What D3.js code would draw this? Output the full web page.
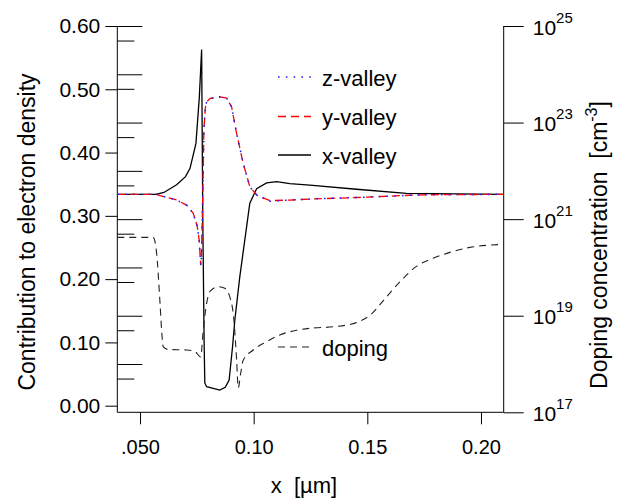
<!DOCTYPE html>
<html>
<head>
<meta charset="utf-8">
<script src="https://cdn.jsdelivr.net/npm/d3@7"></script>
<style>
  body { margin: 0; background: #fff; }
  svg text { font-family: "Liberation Sans", Arial, sans-serif; fill: #000; }
</style>
</head>
<body>
<div id="chart"></div>
<script>
// x-valley (solid black)
const xValleyX = [0.040, 0.057, 0.0605, 0.0661, 0.070, 0.072, 0.0746, 0.0761, 0.0771, 0.0776, 0.0782, 0.0785, 0.0793, 0.0822, 0.0851, 0.0875, 0.0892, 0.0898, 0.0907, 0.0917, 0.0939, 0.0969, 0.0983, 0.1013, 0.1057, 0.1101, 0.1159, 0.1247, 0.1452, 0.1672, 0.210];
const xValleyY = [0.334, 0.334, 0.337, 0.349, 0.362, 0.375, 0.4145, 0.488, 0.563, 0.300, 0.100, 0.036, 0.030, 0.0275, 0.0248, 0.029, 0.0406, 0.0616, 0.093, 0.135, 0.204, 0.283, 0.320, 0.343, 0.352, 0.354, 0.351, 0.3487, 0.342, 0.3355, 0.334];

// y- and z-valley (they lie on top of each other)
const yzValleyX = [0.040, 0.0573, 0.0588, 0.0661, 0.0705, 0.0734, 0.0752, 0.0760, 0.0767, 0.0770, 0.0776, 0.0781, 0.0787, 0.0793, 0.0808, 0.0851, 0.0881, 0.0903, 0.0925, 0.0954, 0.0983, 0.1013, 0.1071, 0.1159, 0.1247, 0.1452, 0.1745, 0.210];
const yValleyY = [0.334, 0.334, 0.332, 0.325, 0.317, 0.304, 0.283, 0.262, 0.222, 0.235, 0.330, 0.4355, 0.470, 0.480, 0.4856, 0.488, 0.486, 0.472, 0.430, 0.383, 0.346, 0.333, 0.324, 0.325, 0.3265, 0.329, 0.3333, 0.334];
const zValleyY = [0.334, 0.334, 0.332, 0.325, 0.317, 0.304, 0.283, 0.262, 0.222, 0.235, 0.330, 0.4355, 0.470, 0.480, 0.4856, 0.488, 0.486, 0.472, 0.430, 0.383, 0.346, 0.333, 0.323, 0.325, 0.3265, 0.329, 0.3333, 0.334];

// doping (right axis, cm^-3)
const dopingX = [0.040, 0.0558, 0.0573, 0.0588, 0.0595, 0.0602, 0.0624, 0.0705, 0.0742, 0.0767, 0.0778, 0.0793, 0.0808, 0.0844, 0.0873, 0.0895, 0.0913, 0.0925, 0.0932, 0.0943, 0.0954, 0.0998, 0.1057, 0.1115, 0.1189, 0.1247, 0.1350, 0.1452, 0.1511, 0.1584, 0.1643, 0.1716, 0.1789, 0.1863, 0.1951, 0.210];
const dopingY = [4.2e20, 4.2e20, 1.95e20, 1.8e19, 5.0e18, 2.3e18, 2.0e18, 1.95e18, 1.8e18, 1.4e18, 5.0e18, 1.8e19, 3.2e19, 4.0e19, 3.7e19, 2.45e19, 8.1e18, 1.2e18, 3.2e17, 6.5e17, 1.2e18, 1.95e18, 2.9e18, 4.0e18, 5.0e18, 5.5e18, 5.9e18, 7.2e18, 1.02e19, 2.45e19, 5.0e19, 1.05e20, 1.55e20, 2.05e20, 2.6e20, 3.0e20];

const xTicks = [0.05, 0.10, 0.15, 0.20];
const xTickLabels = [".050", "0.10", "0.15", "0.20"];
const yTicks = [0, 0.1, 0.2, 0.3, 0.4, 0.5, 0.6];
const rightTicks = [1e17, 1e19, 1e21, 1e23, 1e25];
const rightExps = ["17", "19", "21", "23", "25"];
const decadeTicks = [1e18, 1e19, 1e20, 1e21, 1e22, 1e23, 1e24, 1e25];
const halfDecadeTicks = [5e17, 5e18, 5e19, 5e20, 5e21, 5e22, 5e23, 5e24];
const legendLabels = ["z-valley", "y-valley", "x-valley", "doping"];

const W = 635, H = 499;
const plotL = 117.3, plotR = 503.7, plotT = 26, plotB = 412.3;

const svg = d3.select("#chart").append("svg")
  .attr("width", W).attr("height", H);

const x = d3.scaleLinear().domain([0.04, 0.21]).range([plotL, plotR]);
const y = d3.scaleLinear().domain([0, 0.6]).range([405.7, plotT]);
const yDop = d3.scaleLog().domain([1e17, 1e25]).range([plotB, plotT]);

// frame lines
svg.append("path")
  .attr("d", `M${plotL},${plotT}V${plotB}H${plotR}V${plotT}`)
  .attr("fill", "none").attr("stroke", "#000").attr("stroke-width", 1);

// left axis
const yAxis = svg.append("g")
  .attr("transform", `translate(${plotL},0)`)
  .call(d3.axisLeft(y).tickValues(yTicks).tickSize(12).tickPadding(5)
    .tickFormat(d3.format(".2f")));
yAxis.select(".domain").remove();
yAxis.selectAll("text").attr("font-size", 21);

// inner log ticks on the left side
const inLong = svg.append("g")
  .attr("transform", `translate(${plotL},0)`)
  .call(d3.axisRight(yDop).tickValues(decadeTicks).tickSize(25).tickFormat(""));
inLong.select(".domain").remove();
const inShort = svg.append("g")
  .attr("transform", `translate(${plotL},0)`)
  .call(d3.axisRight(yDop).tickValues(halfDecadeTicks).tickSize(17).tickFormat(""));
inShort.select(".domain").remove();

// bottom axis
const xAxis = svg.append("g")
  .attr("transform", `translate(0,${plotB})`)
  .call(d3.axisBottom(x).tickValues(xTicks).tickSize(12).tickPadding(16)
    .tickFormat((d, i) => xTickLabels[i]));
xAxis.select(".domain").remove();
xAxis.selectAll("text").attr("font-size", 20);

// right axis
const rAxis = svg.append("g")
  .attr("transform", `translate(${plotR},0)`)
  .call(d3.axisRight(yDop).tickValues(rightTicks).tickSize(20).tickPadding(9)
    .tickFormat(""));
rAxis.select(".domain").remove();
rAxis.selectAll(".tick text").each(function(d, i) {
  const t = d3.select(this).attr("dy", null);
  t.append("tspan").attr("dy", 8).attr("font-size", 21).text("10");
  t.append("tspan").attr("dy", -12).attr("font-size", 15).text(rightExps[i]);
});

// curves
const line = d3.line().x(d => x(d[0])).y(d => d[1]);

svg.append("path")
  .datum(xValleyX.map((v, i) => [v, y(xValleyY[i])]))
  .attr("fill", "none").attr("stroke", "#000").attr("stroke-width", 1.3)
  .attr("d", line);

svg.append("path")
  .datum(dopingX.map((v, i) => [v, yDop(dopingY[i])]))
  .attr("fill", "none").attr("stroke", "#222").attr("stroke-width", 1.1)
  .attr("stroke-dasharray", "7,5")
  .attr("d", line.curve(d3.curveMonotoneX));

svg.append("path")
  .datum(yzValleyX.map((v, i) => [v, y(yValleyY[i])]))
  .attr("fill", "none").attr("stroke", "#ff0000").attr("stroke-width", 1.3)
  .attr("stroke-dasharray", "8,5")
  .attr("d", line.curve(d3.curveLinear));

svg.append("path")
  .datum(yzValleyX.map((v, i) => [v, y(zValleyY[i])]))
  .attr("fill", "none").attr("stroke", "#2222ff").attr("stroke-width", 1.5)
  .attr("stroke-dasharray", "1.6,6.2")
  .attr("d", line);

// legend
const legendRows = [
  { label: legendLabels[0], y: 77, stroke: "#2222ff", dash: "1.6,6.2", w: 1.5 },
  { label: legendLabels[1], y: 116.5, stroke: "#ff0000", dash: "8,5", w: 1.3 },
  { label: legendLabels[2], y: 155, stroke: "#000", dash: null, w: 1.3 },
  { label: legendLabels[3], y: 347, stroke: "#222", dash: "7,5", w: 1.1 }
];
legendRows.forEach(r => {
  svg.append("line")
    .attr("x1", 278).attr("x2", 311).attr("y1", r.y).attr("y2", r.y)
    .attr("stroke", r.stroke).attr("stroke-width", r.w)
    .attr("stroke-dasharray", r.dash);
  svg.append("text")
    .attr("x", 322).attr("y", r.y + 8.5)
    .attr("font-size", 22)
    .text(r.label);
});

// axis titles
svg.append("text")
  .attr("transform", "translate(35,232) rotate(-90)")
  .attr("text-anchor", "middle").attr("font-size", 23)
  .text("Contribution to electron density");

svg.append("text")
  .attr("x", 304).attr("y", 493)
  .attr("text-anchor", "middle").attr("font-size", 22)
  .text("x\u00a0\u00a0[\u00b5m]");

const rt = svg.append("text")
  .attr("transform", "translate(607,245) rotate(-90)")
  .attr("text-anchor", "middle").attr("font-size", 23);
rt.append("tspan").text("Doping concentration\u00a0\u00a0[cm");
rt.append("tspan").attr("dy", -10).attr("font-size", 16).text("-3");
rt.append("tspan").attr("dy", 10).text("]");
</script>
</body>
</html>
